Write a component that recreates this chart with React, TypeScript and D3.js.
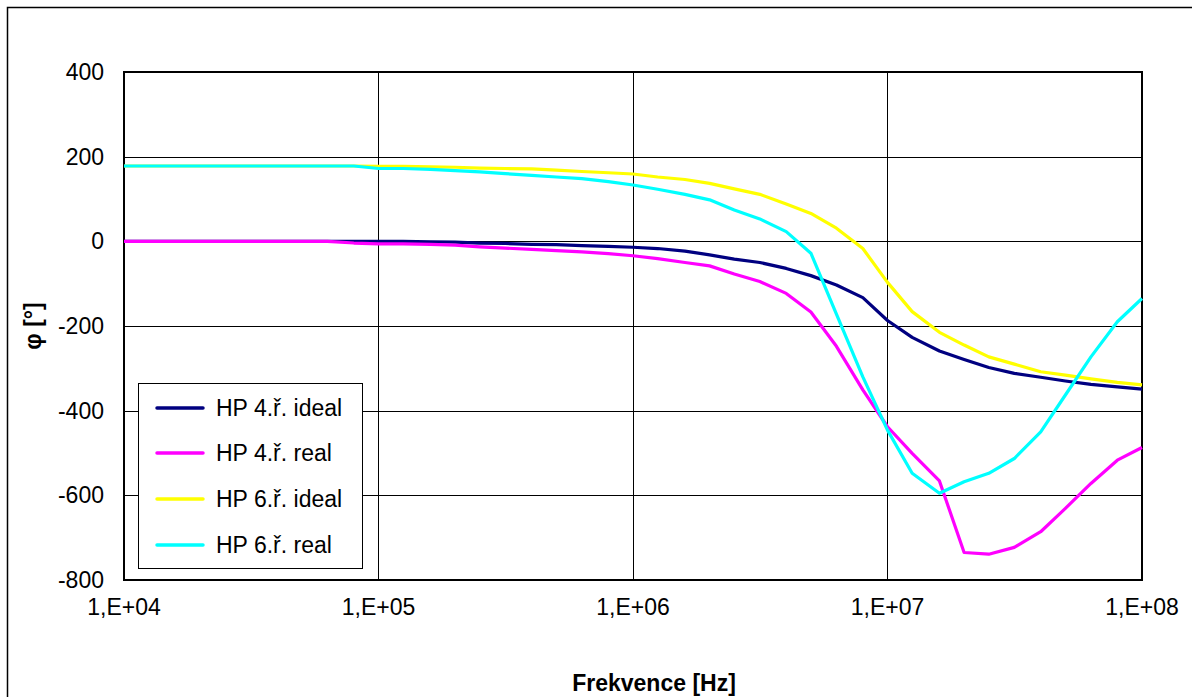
import React, { useEffect, useRef } from "react";
import * as d3 from "d3";

// frequencies [Hz], 1/10 decade steps
const freqs = [
  1e4, 1.25e4, 1.6e4, 2e4, 2.5e4, 3.15e4, 4e4, 5e4, 6.3e4, 8e4,
  1e5, 1.25e5, 1.6e5, 2e5, 2.5e5, 3.15e5, 4e5, 5e5, 6.3e5, 8e5,
  1e6, 1.25e6, 1.6e6, 2e6, 2.5e6, 3.15e6, 4e6, 5e6, 6.3e6, 8e6,
  1e7, 1.25e7, 1.6e7, 2e7, 2.5e7, 3.15e7, 4e7, 5e7, 6.3e7, 8e7,
  1e8,
];

// phase [deg]
const hp4Ideal = [
  0, 0, 0, 0, 0, 0, 0, 0, 0, 0,
  0, 0, -1, -2, -4, -5, -7, -8, -10, -12,
  -14, -17, -23, -32, -42, -50, -64, -81, -103, -133,
  -187, -227, -259, -279, -298, -312, -321, -330, -338, -344,
  -349,
];
const hp4Real = [
  0, 0, 0, 0, 0, 0, 0, 0, 0, -4,
  -6, -6, -7, -9, -13, -16, -19, -22, -25, -29,
  -34, -41, -50, -58, -77, -95, -123, -167, -248, -351,
  -438, -501, -566, -735, -739, -723, -686, -631, -572, -517,
  -487,
];
const hp6Ideal = [
  178, 178, 178, 178, 178, 178, 178, 178, 178, 178,
  177, 177, 176, 175, 173, 172, 171, 168, 165, 162,
  159, 152, 146, 137, 124, 111, 88, 66, 31, -17,
  -97, -166, -215, -245, -273, -290, -308, -316, -325, -333,
  -339,
];
const hp6Real = [
  178, 178, 178, 178, 178, 178, 178, 178, 178, 178,
  172, 172, 170, 167, 164, 160, 156, 152, 148, 141,
  133, 123, 111, 98, 74, 53, 23, -28, -172, -320,
  -446, -548, -595, -568, -548, -513, -450, -363, -273, -190,
  -135,
];

const seriesNames = ["HP 4.ř. ideal", "HP 4.ř. real", "HP 6.ř. ideal", "HP 6.ř. real"];
const seriesColors = ["#000080", "#ff00ff", "#ffff00", "#00ffff"];
const seriesValues = [hp4Ideal, hp4Real, hp6Ideal, hp6Real];

const xTicks = [1e4, 1e5, 1e6, 1e7, 1e8];
const xTickLabels = ["1,E+04", "1,E+05", "1,E+06", "1,E+07", "1,E+08"];
const yTicks = [400, 200, 0, -200, -400, -600, -800];

export default function App() {
  const ref = useRef<SVGSVGElement>(null);

  useEffect(() => {
    const width = 1192;
    const height = 697;
    const plot = { left: 124, top: 72, right: 1142, bottom: 580 };
    const font = "'Liberation Sans', Arial, sans-serif";

    const svg = d3.select(ref.current);
    svg.selectAll("*").remove();
    svg.attr("width", width).attr("height", height);

    // chart area border (only left/top visible in the frame)
    svg.append("rect")
      .attr("x", 7.5).attr("y", 7.5)
      .attr("width", 1200).attr("height", 720)
      .attr("fill", "#fff")
      .attr("stroke", "#000")
      .attr("stroke-width", 1.5);

    const xScale = d3.scaleLog().domain([1e4, 1e8]).range([plot.left, plot.right]);
    const yScale = d3.scaleLinear().domain([-800, 400]).range([plot.bottom, plot.top]);

    // gridlines
    const grid = svg.append("g").attr("stroke", "#000").attr("stroke-width", 1);
    grid.selectAll(".hg")
      .data(yTicks)
      .join("line")
      .attr("class", "hg")
      .attr("x1", plot.left).attr("x2", plot.right)
      .attr("y1", d => Math.round(yScale(d)) + 0.5)
      .attr("y2", d => Math.round(yScale(d)) + 0.5);
    grid.selectAll(".vg")
      .data(xTicks)
      .join("line")
      .attr("class", "vg")
      .attr("y1", plot.top).attr("y2", plot.bottom)
      .attr("x1", d => Math.round(xScale(d)) + 0.5)
      .attr("x2", d => Math.round(xScale(d)) + 0.5);

    // plot frame
    svg.append("rect")
      .attr("x", plot.left).attr("y", plot.top)
      .attr("width", plot.right - plot.left)
      .attr("height", plot.bottom - plot.top)
      .attr("fill", "none")
      .attr("stroke", "#000")
      .attr("stroke-width", 2);

    // lines
    const line = d3.line<number>()
      .x((_, i) => xScale(freqs[i]))
      .y(d => yScale(d));

    seriesValues.forEach((vals, i) => {
      svg.append("path")
        .datum(vals)
        .attr("d", line)
        .attr("fill", "none")
        .attr("stroke", seriesColors[i])
        .attr("stroke-width", 3.2)
        .attr("stroke-linejoin", "round");
    });

    // y tick labels (plain hyphen minus like the original)
    svg.append("g")
      .selectAll("text")
      .data(yTicks)
      .join("text")
      .attr("x", 104)
      .attr("y", d => yScale(d))
      .attr("dy", "0.35em")
      .attr("text-anchor", "end")
      .attr("font-family", font)
      .attr("font-size", 23)
      .text(d => String(d));

    // x tick labels
    svg.append("g")
      .selectAll("text")
      .data(xTicks)
      .join("text")
      .attr("x", d => xScale(d))
      .attr("y", 607)
      .attr("dy", "0.35em")
      .attr("text-anchor", "middle")
      .attr("font-family", font)
      .attr("font-size", 23)
      .text((_, i) => xTickLabels[i]);

    // axis titles
    svg.append("text")
      .attr("x", 654)
      .attr("y", 683)
      .attr("dy", "0.35em")
      .attr("text-anchor", "middle")
      .attr("font-family", font)
      .attr("font-weight", "bold")
      .attr("font-size", 23)
      .text("Frekvence [Hz]");

    svg.append("text")
      .attr("transform", `translate(33, ${(plot.top + plot.bottom) / 2}) rotate(-90)`)
      .attr("dy", "0.35em")
      .attr("text-anchor", "middle")
      .attr("font-family", font)
      .attr("font-weight", "bold")
      .attr("font-size", 23)
      .text("φ [°]");

    // legend
    const legend = svg.append("g");
    legend.append("rect")
      .attr("x", 138.5).attr("y", 383.5)
      .attr("width", 224).attr("height", 185)
      .attr("fill", "#fff")
      .attr("stroke", "#000")
      .attr("stroke-width", 1);

    const rowY = [408, 453, 499, 545];
    seriesNames.forEach((name, i) => {
      legend.append("line")
        .attr("x1", 157).attr("x2", 203)
        .attr("y1", rowY[i]).attr("y2", rowY[i])
        .attr("stroke", seriesColors[i])
        .attr("stroke-width", 3.5)
        .attr("stroke-linecap", "round");
      legend.append("text")
        .attr("x", 216)
        .attr("y", rowY[i])
        .attr("dy", "0.35em")
        .attr("font-family", font)
        .attr("font-size", 23)
        .text(name);
    });
  }, []);

  return (
    <svg ref={ref} style={{ position: "absolute", left: 0, top: 0 }}></svg>
  );
}
